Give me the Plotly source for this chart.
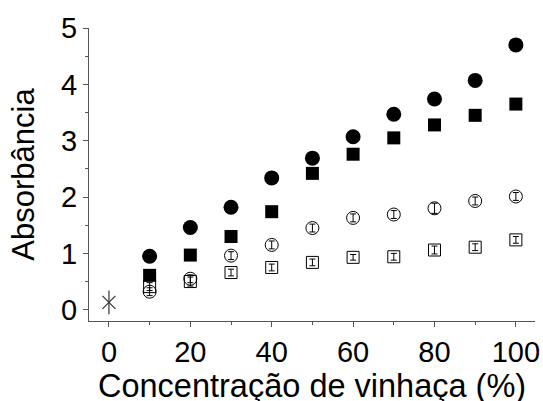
import plotly.graph_objects as go

# Vinasse concentration (%) and absorbance readings for each series
conc = [10, 20, 30, 40, 50, 60, 70, 80, 90, 100]

abs_circle_filled = [0.95, 1.46, 1.82, 2.34, 2.69, 3.07, 3.47, 3.74, 4.07, 4.70]
abs_square_filled = [0.61, 0.97, 1.30, 1.74, 2.42, 2.76, 3.05, 3.28, 3.45, 3.65]
abs_circle_open = [0.32, 0.55, 0.96, 1.15, 1.45, 1.63, 1.69, 1.80, 1.93, 2.01]
abs_square_open = [0.41, 0.50, 0.66, 0.75, 0.84, 0.93, 0.94, 1.06, 1.11, 1.24]

err_circle_open = [0.07, 0.07, 0.07, 0.07, 0.07, 0.07, 0.07, 0.09, 0.07, 0.07]
err_square_open = [0.07, 0.08, 0.06, 0.06, 0.06, 0.05, 0.06, 0.07, 0.06, 0.06]

blank_conc = [0]
blank_abs = [0.13]

x_ticks = [0, 20, 40, 60, 80, 100]
y_ticks = [0, 1, 2, 3, 4, 5]

FONT = "Liberation Sans, Arial, sans-serif"

fig = go.Figure()

fig.add_trace(go.Scatter(
    x=conc, y=abs_circle_open, mode="markers",
    error_y=dict(type="data", array=err_circle_open, color="black",
                 thickness=1, width=3),
    marker=dict(symbol="circle-open", size=13, color="black",
                line=dict(width=1, color="black")),
))
fig.add_trace(go.Scatter(
    x=conc, y=abs_square_open, mode="markers",
    error_y=dict(type="data", array=err_square_open, color="black",
                 thickness=1, width=3),
    marker=dict(symbol="square-open", size=12, color="black",
                line=dict(width=1, color="black")),
))
fig.add_trace(go.Scatter(
    x=conc, y=abs_square_filled, mode="markers",
    marker=dict(symbol="square", size=13, color="black"),
))
fig.add_trace(go.Scatter(
    x=conc, y=abs_circle_filled, mode="markers",
    marker=dict(symbol="circle", size=15, color="black"),
))
# Blank sample: six-armed star (diagonal cross plus vertical stroke)
fig.add_trace(go.Scatter(
    x=blank_conc, y=blank_abs, mode="markers",
    marker=dict(symbol="x-thin-open", size=13, color="#333",
                line=dict(width=1.2, color="#333")),
))
fig.add_trace(go.Scatter(
    x=blank_conc, y=blank_abs, mode="markers",
    marker=dict(symbol="line-ns-open", size=17, color="#333",
                line=dict(width=1.2, color="#333")),
))

axis_common = dict(
    showgrid=False, zeroline=False, showline=True, automargin=False,
    linecolor="#555", linewidth=1.2,
    ticks="outside", ticklen=5, tickwidth=1.2, tickcolor="#555",
    tickfont=dict(family=FONT, size=29, color="black"),
)

fig.update_xaxes(
    range=[-4.9, 104.7], tickvals=x_ticks,
    ticktext=[str(v) for v in x_ticks],
    minor=dict(dtick=10, tick0=0, ticks="outside", ticklen=3,
               tickwidth=1, tickcolor="#555"),
    **axis_common,
)
fig.update_yaxes(
    range=[-0.2, 5.0], tickvals=y_ticks,
    ticktext=[str(v) for v in y_ticks],
    minor=dict(dtick=0.5, tick0=0, ticks="outside", ticklen=3,
               tickwidth=1, tickcolor="#555"),
    title=dict(text="Absorbância",
               font=dict(family=FONT, size=31, color="black"), standoff=17),
    **axis_common,
)

# x-axis title placed as an annotation so it can sit low near the page edge
fig.add_annotation(
    text="Concentração de vinhaça (%)",
    xref="paper", yref="paper", x=0.5, y=0,
    xanchor="center", yanchor="top", yshift=-45,
    showarrow=False,
    font=dict(family=FONT, size=32.5, color="black"),
)

fig.update_layout(
    width=543, height=401,
    margin=dict(l=89, r=8, t=28, b=80),
    paper_bgcolor="white", plot_bgcolor="white",
    showlegend=False,
)

fig.write_html("out.html")
